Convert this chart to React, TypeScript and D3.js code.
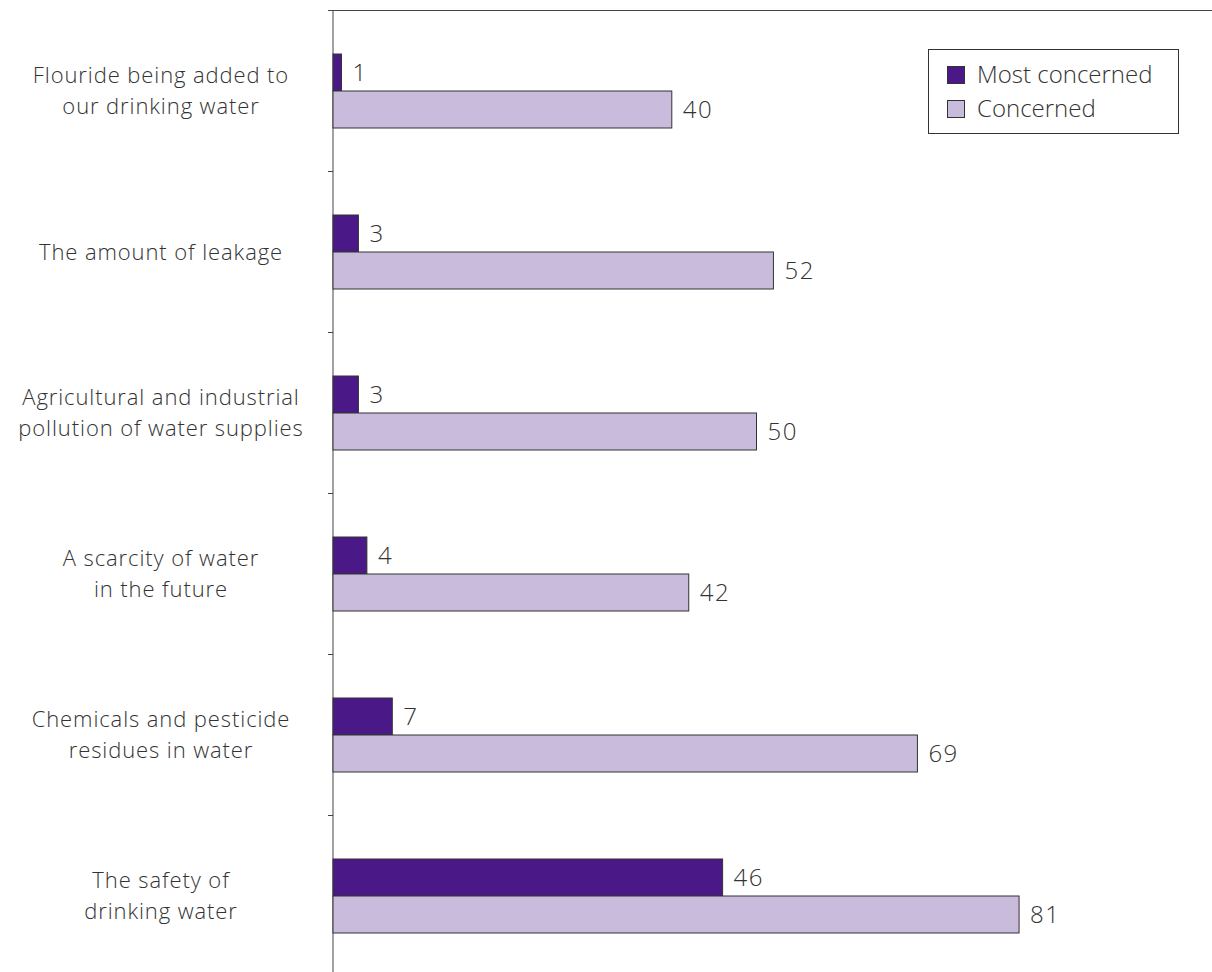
import React, { useEffect } from "react";
import * as d3 from "d3";

const categories = [
  ["Flouride being added to", "our drinking water"],
  ["The amount of leakage"],
  ["Agricultural and industrial", "pollution of water supplies"],
  ["A scarcity of water", "in the future"],
  ["Chemicals and pesticide", "residues in water"],
  ["The safety of", "drinking water"],
];
const mostConcerned = [1, 3, 3, 4, 7, 46];
const concerned = [40, 52, 50, 42, 69, 81];
const seriesNames = ["Most concerned", "Concerned"];
const colors = ["#4B1887", "#C9BBDB"];

const W = 1212;
const H = 972;
const FONT = "'Open Sans', 'Noto Sans', sans-serif";
const FS = 24;
const LFS = 22;

export default function App() {
  useEffect(() => {
    document.body.style.margin = "0";
  }, []);

  const x = d3.scaleLinear().domain([0, 100]).range([333, 1180]);
  const y = d3
    .scaleBand<number>()
    .domain(d3.range(categories.length))
    .range([10.5, 10.5 + 161 * categories.length])
    .paddingInner(0)
    .paddingOuter(0);
  const barH = 37;
  const textColor = "#333";

  return (
    <svg width={W} height={H} style={{ display: "block" }} fontFamily={FONT}>
      <rect width={W} height={H} fill="#fff" />
      <line x1={x(0)} x2={W} y1={10.5} y2={10.5} stroke="#444" strokeWidth={1} />
      <line x1={x(0)} x2={x(0)} y1={10.5} y2={H} stroke="#444" strokeWidth={1} />
      {d3.range(categories.length + 1).map((i) => {
        const ty = 10.5 + i * y.bandwidth();
        return <line key={"t" + i} x1={x(0) - 5} x2={x(0)} y1={ty} y2={ty} stroke="#444" strokeWidth={1} />;
      })}
      {categories.map((lines, i) => {
        const cy = (y(i) as number) + y.bandwidth() / 2;
        const lh = 30.5;
        const start = cy - ((lines.length - 1) * lh) / 2;
        return (
          <g key={"c" + i}>
            {lines.map((l, j) => (
              <text
                key={j}
                x={161}
                y={start + j * lh}
                dy="0.35em"
                textAnchor="middle"
                fontSize={LFS}
                fill={textColor}
                fontWeight={300}
                letterSpacing={0.9}
              >
                {l}
              </text>
            ))}
            {[mostConcerned[i], concerned[i]].map((v, s) => {
              const by = cy - barH + s * barH;
              return (
                <g key={s}>
                  <rect
                    x={x(0)}
                    y={by}
                    width={x(v) - x(0)}
                    height={barH}
                    fill={colors[s]}
                    stroke="#333"
                    strokeWidth={1}
                  />
                  <text
                    x={x(v) + 11}
                    y={by + barH / 2}
                    dy="0.35em"
                    fontSize={FS}
                    fill={textColor}
                    fontWeight={300}
                    letterSpacing={1.5}
                  >
                    {v}
                  </text>
                </g>
              );
            })}
          </g>
        );
      })}
      <g>
        <rect x={928.5} y={49.5} width={250} height={84} fill="#fff" stroke="#333" strokeWidth={1} />
        {seriesNames.map((n, i) => (
          <g key={n}>
            <rect x={947.5} y={66.5 + i * 34} width={17} height={17} fill={colors[i]} stroke="#333" strokeWidth={1} />
            <text x={977} y={75 + i * 34} dy="0.35em" fontSize={FS} fill={textColor} fontWeight={300}>
              {n}
            </text>
          </g>
        ))}
      </g>
    </svg>
  );
}
